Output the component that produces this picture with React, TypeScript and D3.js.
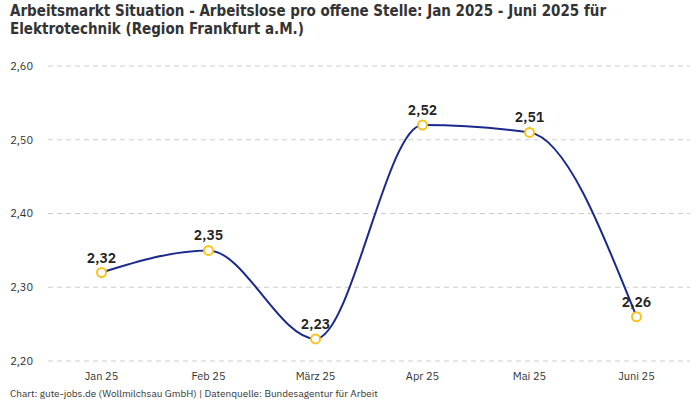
import React from 'react';
import * as d3 from 'd3';

const months = ['Jan 25', 'Feb 25', 'März 25', 'Apr 25', 'Mai 25', 'Juni 25'];
const values = [2.32, 2.35, 2.23, 2.52, 2.51, 2.26];
const yTicks = [2.2, 2.3, 2.4, 2.5, 2.6];

const W = 700;
const H = 400;
const margin = { top: 66, right: 10, bottom: 39, left: 48 };

const fmt = (v: number) => v.toFixed(2).replace('.', ',');

const App: React.FC = () => {
    const x = d3
        .scaleBand<string>()
        .domain(months)
        .range([margin.left, W - margin.right]);
    const y = d3
        .scaleLinear()
        .domain([2.2, 2.6])
        .range([H - margin.bottom, margin.top]);

    const cx = (m: string) => (x(m) ?? 0) + x.bandwidth() / 2;

    const line = d3
        .line<number>()
        .x((_, i) => cx(months[i]))
        .y((d) => y(d))
        .curve(d3.curveMonotoneX);

    const font = "'IBM Plex Sans', 'Noto Sans', 'DejaVu Sans', sans-serif";

    return (
        <svg
            width={W}
            height={H}
            style={{ position: 'absolute', left: 0, top: 0, background: '#fff' }}
            fontFamily={font}
        >
            <text
                x={10}
                y={16}
                fontSize={15}
                fontWeight="bold"
                fill="#333"
                fontFamily="'Liberation Sans Narrow', 'DejaVu Sans Condensed', sans-serif"
            >
                <tspan x={10}>Arbeitsmarkt Situation - Arbeitslose pro offene Stelle: Jan 2025 - Juni 2025 für</tspan>
                <tspan x={10} dy={18}>Elektrotechnik (Region Frankfurt a.M.)</tspan>
            </text>

            {yTicks.map((t) => (
                <g key={t}>
                    <line
                        x1={margin.left}
                        x2={W - margin.right}
                        y1={y(t)}
                        y2={y(t)}
                        stroke="#ccc"
                        strokeDasharray="5,4"
                    />
                    <text
                        x={33}
                        y={y(t)}
                        dy="0.35em"
                        textAnchor="end"
                        fontSize={11}
                        fill="#333"
                    >
                        {fmt(t)}
                    </text>
                </g>
            ))}

            {months.map((m) => (
                <text
                    key={m}
                    x={cx(m)}
                    y={380}
                    textAnchor="middle"
                    fontSize={11}
                    fill="#333"
                >
                    {m}
                </text>
            ))}

            <path
                d={line(values) ?? ''}
                fill="none"
                stroke="#1a2a8c"
                strokeWidth={2}
            />

            {values.map((v, i) => (
                <g key={i}>
                    <circle
                        cx={cx(months[i])}
                        cy={y(v)}
                        r={4.5}
                        fill="#fff"
                        stroke="#f7c31c"
                        strokeWidth={2}
                    />
                    <text
                        x={cx(months[i])}
                        y={y(v) - 10}
                        textAnchor="middle"
                        fontSize={14}
                        fontWeight={600}
                        fill="#222"
                    >
                        {fmt(v)}
                    </text>
                </g>
            ))}

            <text x={10} y={397} fontSize={10} fill="#333">
                Chart: gute-jobs.de (Wollmilchsau GmbH) | Datenquelle: Bundesagentur für Arbeit
            </text>
        </svg>
    );
};

export default App;
